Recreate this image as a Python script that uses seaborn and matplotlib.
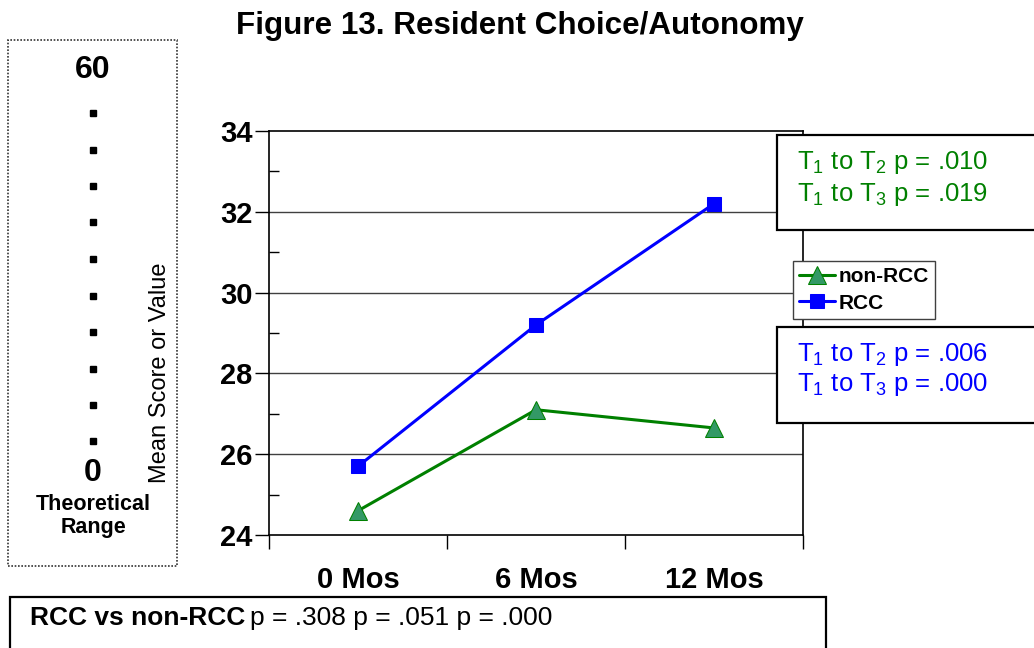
import matplotlib
matplotlib.use("Agg")
import matplotlib.pyplot as plt
import seaborn as sns
import pandas as pd
from matplotlib.patches import Rectangle
from matplotlib.lines import Line2D

# data
months = ['0 Mos', '6 Mos', '12 Mos']
non_rcc = [24.6, 27.1, 26.65]
rcc = [25.7, 29.2, 32.2]
non_rcc_stats = ['T$_1$ to T$_2$ p = .010', 'T$_1$ to T$_3$ p = .019']
rcc_stats = ['T$_1$ to T$_2$ p = .006', 'T$_1$ to T$_3$ p = .000']
group_pvals = 'p = .308 p = .051 p = .000'

sns.set_style('white')
plt.rcParams['font.family'] = ['Liberation Sans', 'DejaVu Sans']
plt.rcParams['mathtext.fontset'] = 'custom'
plt.rcParams['mathtext.rm'] = 'Liberation Sans'
plt.rcParams['text.color'] = 'black'
plt.rcParams['axes.labelcolor'] = 'black'
plt.rcParams['xtick.color'] = 'black'
plt.rcParams['ytick.color'] = 'black'

W, H = 1034, 648
fig = plt.figure(figsize=(W / 100, H / 100), dpi=100)

def fx(px):
    return px / W

def fy(py):
    return 1 - py / H

ax = fig.add_axes([fx(269), fy(535), fx(803) - fx(269), fy(131) - fy(535)])

df = pd.DataFrame({'pos': list(range(3)) * 2,
                   'value': non_rcc + rcc,
                   'group': ['non-RCC'] * 3 + ['RCC'] * 3})

sns.lineplot(data=df[df.group == 'non-RCC'], x='pos', y='value', ax=ax,
             color='#008000', linewidth=2.2, marker='^', markersize=13,
             markerfacecolor='#339966', markeredgecolor='#008000',
             label='non-RCC')
sns.lineplot(data=df[df.group == 'RCC'], x='pos', y='value', ax=ax,
             color='#0000FF', linewidth=2.2, marker='s', markersize=10,
             markerfacecolor='#0000FF', markeredgecolor='#0000FF',
             label='RCC')

ax.set_xlim(-0.5, 2.5)
ax.set_ylim(24, 34)
ax.set_yticks([24, 26, 28, 30, 32, 34])
ax.set_yticklabels(['24', '26', '28', '30', '32', '34'], fontsize=21, fontweight='bold')
ax.set_yticks([25, 27, 29, 31, 33], minor=True)
ax.tick_params(axis='y', which='major', direction='out', length=10, width=1, left=True, pad=2)
ax.tick_params(axis='y', which='minor', direction='in', length=7, width=1, left=True)
ax.set_xticks([0, 1, 2])
ax.set_xticklabels(months, fontsize=21, fontweight='bold')
ax.set_xticks([-0.5, 0.5, 1.5, 2.5], minor=True)
ax.tick_params(axis='x', which='major', length=0, pad=22)
ax.tick_params(axis='x', which='minor', direction='out', length=10, width=1, bottom=True)

for y in [26, 28, 30, 32]:
    ax.axhline(y, color='#404040', linewidth=1, zorder=0)
for s in ax.spines.values():
    s.set_color('black')
    s.set_linewidth(1.2)

ax.set_xlabel('')
ax.set_ylabel('Mean Score or Value', fontsize=17)
ax.yaxis.set_label_coords((171 - 269) / (803 - 269), (535 - 373) / (535 - 131))

leg = ax.legend(loc='upper left', bbox_to_anchor=(fx(793), fy(261)),
                bbox_transform=fig.transFigure, prop={'weight': 'bold', 'size': 15},
                frameon=True, fancybox=False, edgecolor='#404040', framealpha=1,
                handlelength=1.7, handletextpad=0.2, borderpad=0.3, labelspacing=0.35,
                borderaxespad=0)
leg.get_frame().set_linewidth(1)
leg.set_zorder(7)

# title
fig.text(fx(520), fy(26), 'Figure 13. Resident Choice/Autonomy', ha='center', va='center',
         fontsize=22.6, fontweight='bold')

# theoretical range box
fig.patches.append(Rectangle((fx(8), fy(566)), fx(177) - fx(8), fy(40) - fy(566),
                             transform=fig.transFigure, fill=False, edgecolor='#333333',
                             linestyle=(0, (1, 1)), linewidth=1.2))
fig.text(fx(93), fy(70), '60', ha='center', va='center', fontsize=23, fontweight='bold')
for py in [113, 150, 186, 222, 259, 296, 332, 369, 405, 441]:
    fig.add_artist(Line2D([fx(93)], [fy(py)], marker='s', markersize=3.8, color='black',
                          linestyle='none', transform=fig.transFigure))
fig.text(fx(93), fy(473), '0', ha='center', va='center', fontsize=23, fontweight='bold')
fig.text(fx(93), fy(504), 'Theoretical', ha='center', va='center', fontsize=15.5, fontweight='bold')
fig.text(fx(93), fy(528), 'Range', ha='center', va='center', fontsize=15.5, fontweight='bold')

# stats boxes
fig.patches.append(Rectangle((fx(777), fy(230)), fx(300), fy(135) - fy(230),
                             transform=fig.transFigure, facecolor='white', edgecolor='black',
                             linewidth=1.6, zorder=5))
fig.text(fx(797), fy(163), non_rcc_stats[0], ha='left', va='center', fontsize=18.5, color='#008000', zorder=6)
fig.text(fx(797), fy(194), non_rcc_stats[1], ha='left', va='center', fontsize=18.5, color='#008000', zorder=6)

fig.patches.append(Rectangle((fx(777), fy(423)), fx(300), fy(327) - fy(423),
                             transform=fig.transFigure, facecolor='white', edgecolor='black',
                             linewidth=1.6, zorder=5))
fig.text(fx(797), fy(354), rcc_stats[0], ha='left', va='center', fontsize=18.5, color='#0000FF', zorder=6)
fig.text(fx(797), fy(385), rcc_stats[1], ha='left', va='center', fontsize=18.5, color='#0000FF', zorder=6)

# bottom comparison box
fig.patches.append(Rectangle((fx(10), fy(700)), fx(826) - fx(10), fy(597) - fy(700),
                             transform=fig.transFigure, facecolor='white', edgecolor='black',
                             linewidth=1.6, zorder=5))
t = fig.text(fx(30), fy(618), 'RCC vs non-RCC', ha='left', va='center', fontsize=19,
             fontweight='bold', zorder=6)
fig.canvas.draw()
bb = t.get_window_extent()
fig.text(bb.x1 / W + fx(5), fy(618), group_pvals, ha='left', va='center', fontsize=19, zorder=6)

fig.savefig('out.png', dpi=100)
